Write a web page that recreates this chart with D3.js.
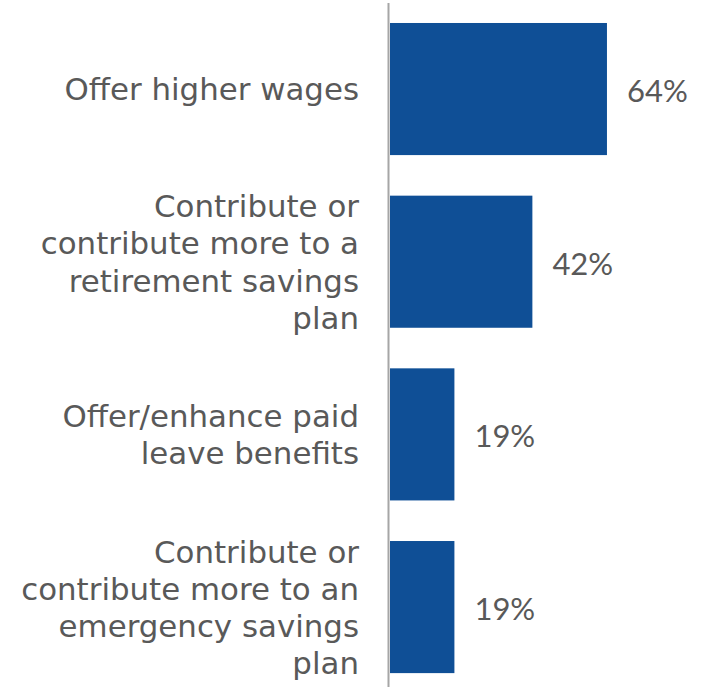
<!DOCTYPE html>
<html>
<head>
<meta charset="utf-8">
<script src="https://cdn.jsdelivr.net/npm/d3@7"></script>
<style>
  html, body { margin: 0; padding: 0; background: #ffffff; }
  svg { display: block; }
  text { fill: #595959; }
  .cat { font-family: "DejaVu Sans", "Lato", sans-serif; }
  .value { font-family: "Lato", "DejaVu Sans", sans-serif; }
</style>
</head>
<body>
<svg id="chart" width="705" height="687"></svg>
<script>
// Share of employers taking each action
const categories = [
  "Offer higher wages",
  "Contribute or contribute more to a retirement savings plan",
  "Offer/enhance paid leave benefits",
  "Contribute or contribute more to an emergency savings plan"
];
const categoryLines = [
  ["Offer higher wages"],
  ["Contribute or", "contribute more to a", "retirement savings", "plan"],
  ["Offer/enhance paid", "leave benefits"],
  ["Contribute or", "contribute more to an", "emergency savings", "plan"]
];
const values = [64, 42, 19, 19];
const valueLabels = ["64%", "42%", "19%", "19%"];

const W = 705, H = 687;
const axisX = 389;
const svg = d3.select("#chart");

const x = d3.scaleLinear().domain([0, 100]).range([axisX + 1, axisX + 1 + 339]);
const y = d3.scaleBand()
  .domain(categories)
  .range([2.7, 693.4])
  .paddingInner(0.235)
  .paddingOuter(0.1175);

// Bars
svg.selectAll("rect.bar")
  .data(categories)
  .join("rect")
  .attr("class", "bar")
  .attr("x", x(0))
  .attr("y", d => y(d))
  .attr("width", (d, i) => x(values[i]) - x(0))
  .attr("height", y.bandwidth())
  .attr("fill", "#0f4f96");

// Vertical category axis line
svg.append("line")
  .attr("x1", axisX - 0.5).attr("x2", axisX - 0.5)
  .attr("y1", 3).attr("y2", H)
  .attr("stroke", "#a6a6a6")
  .attr("stroke-width", 2);

// Pick a font size so the longest label line spans the space left of the axis
const probe = svg.append("text").attr("class", "cat").attr("font-size", 100).text("contribute more to an");
const probeW = probe.node().getComputedTextLength();
probe.remove();
const fontSize = Math.min(32, 100 * 338 / probeW);

// Category labels, right aligned against the axis
const lineH = 37.3;
categories.forEach((c, i) => {
  const lines = categoryLines[i];
  const cy = y(c) + y.bandwidth() / 2;
  const t = svg.append("text")
    .attr("class", "cat")
    .attr("text-anchor", "end")
    .attr("font-size", fontSize);
  lines.forEach((ln, j) => {
    t.append("tspan")
      .attr("x", axisX - 30)
      .attr("y", cy + (j - (lines.length - 1) / 2) * lineH)
      .attr("dy", "0.37em")
      .text(ln);
  });
});

// Value labels at bar ends
svg.selectAll("text.value")
  .data(categories)
  .join("text")
  .attr("class", "value")
  .attr("x", (d, i) => x(values[i]) + 20)
  .attr("y", d => y(d) + y.bandwidth() / 2)
  .attr("dy", "0.42em")
  .attr("font-size", 31)
  .text((d, i) => valueLabels[i]);
</script>
</body>
</html>
